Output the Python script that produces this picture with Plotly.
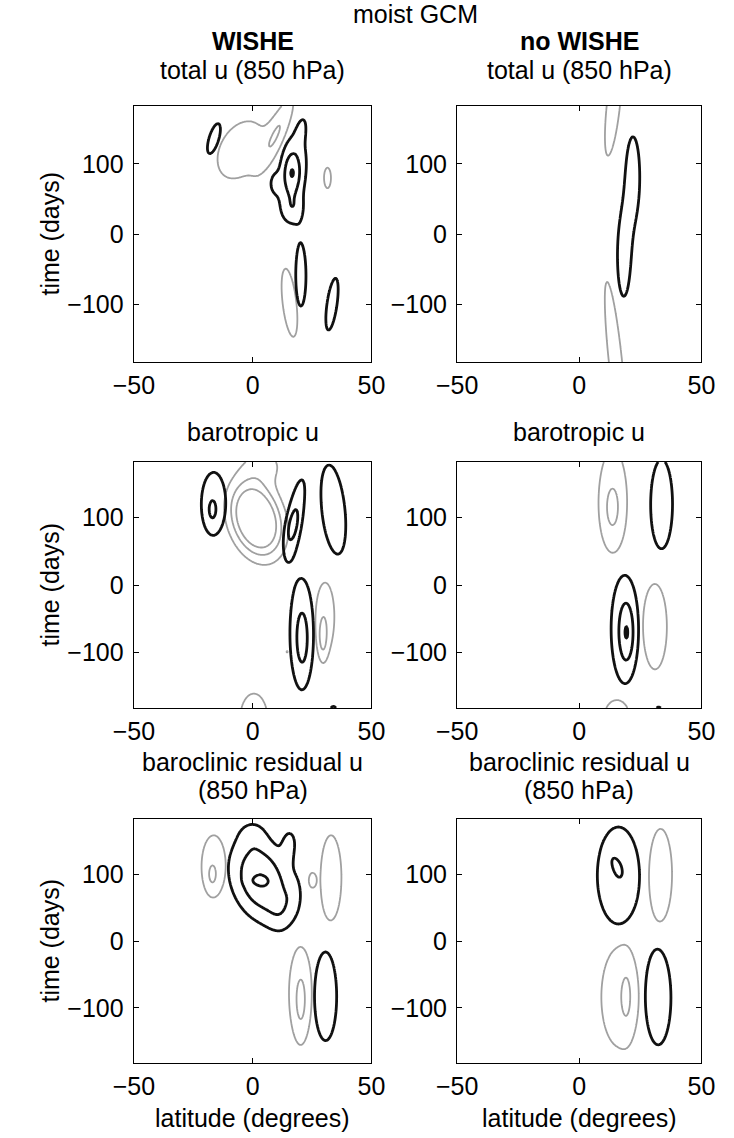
import numpy as np
import plotly.graph_objects as go

# ---------------------------------------------------------------------------
# Anomaly structures of zonal wind, latitude (deg) vs time lag (days).
# Each entry: (lat centre, time centre, lat spread, time spread, amplitude,
#              lat drift per day).  Positive amplitudes are westerly
#              (black contours), negative ones easterly (grey contours).
# ---------------------------------------------------------------------------
WISHE_TOTAL_U = [
    (-16.3, 136, 2.2, 22, 1.6, 0.08),
    (17.0, 88, 5.0, 50, 1.7, 0.03),
    (16.5, 87, 2.4, 20, 1.35, 0.0),
    (9.0, 72, 2.0, 13, 0.8, 0.0),
    (20.5, 148, 1.5, 15, 0.8, 0.05),
    (17.0, 35, 3.2, 15, 0.9, 0.0),
    (20.3, -60, 2.2, 44, 1.6, 0.0),
    (33.4, -100, 2.2, 38, 1.6, 0.04),
    (-5.0, 120, 9.5, 42, -1.6, 0.08),
    (11.0, 150, 3.0, 40, -1.6, 0.12),
    (31.5, 80, 1.5, 15, -1.6, 0.0),
    (15.5, -98, 3.0, 50, -1.6, -0.033),
]

NO_WISHE_TOTAL_U = [
    (22.0, 82, 2.8, 58, 1.6, 0.0),
    (18.2, -33, 2.6, 57, 1.6, 0.0),
    (14.0, 185, 2.8, 75, -1.6, 0.03),
    (14.75, -180, 2.8, 115, -1.6, -0.03),
]

WISHE_BAROTROPIC_U = [
    (-16.4, 122, 5.6, 50, 1.5, 0.0),
    (-17.0, 110, 1.8, 16, 0.8, 0.0),
    (17.6, 101, 2.8, 52, 1.6, 0.05),
    (16.7, 86, 2.0, 20, 0.8, 0.05),
    (34.0, 112, 5.0, 68, 1.6, -0.028),
    (20.5, -68, 4.6, 75, 1.6, 0.0),
    (21.0, -85, 2.4, 40, 0.9, 0.0),
    (34.0, -186, 1.3, 6, 1.6, 0.0),
    (1.5, 98, 6.9, 36, -6.0, -0.05),
    (5.0, 178, 7.0, 20, -1.2, 0.0),
    (30.5, -47, 4.0, 52, -1.6, 0.0),
    (29.5, -80, 1.4, 22, -1.3, 0.0),
    (14.5, -99, 0.5, 3, -1.1, 0.0),
    (0.5, -200, 6.0, 40, -1.6, 0.0),
]

NO_WISHE_BAROTROPIC_U = [
    (13.8, 128, 6.0, 80, -1.5, 0.0),
    (13.5, 112, 2.6, 30, -0.9, 0.0),
    (31.0, -62, 5.0, 65, -1.6, 0.0),
    (15.3, -200, 5.5, 30, -1.6, 0.0),
    (33.7, 120, 4.6, 68, 1.6, 0.0),
    (18.5, -65, 4.8, 69, 1.9, 0.0),
    (19.5, -72, 2.0, 30, 1.2, 0.0),
    (32.5, -187, 1.3, 6, 1.6, 0.0),
]

WISHE_BAROCLINIC_U = [
    (-16.4, 113, 5.6, 50, -1.5, 0.0),
    (-17.0, 98, 1.6, 14, -0.9, 0.0),
    (25.0, 91, 1.1, 8, -1.6, 0.0),
    (33.0, 95, 4.5, 65, -1.6, 0.0),
    (20.0, -77, 5.0, 70, -1.5, 0.0),
    (20.3, -93, 2.0, 36, -0.9, 0.0),
    (3.5, 92, 9.0, 45, 2.98, -0.05),
    (2.5, 90, 3.5, 5, 0.3, 0.0),
    (16.0, 150, 2.5, 18, 0.9, 0.0),
    (14.5, 128, 1.5, 15, 0.7, 0.0),
    (0.0, 160, 4.0, 15, 0.7, 0.0),
    (17.5, 70, 2.5, 22, 0.6, 0.0),
    (12.0, 40, 4.0, 22, 0.7, 0.0),
    (30.7, -83, 4.8, 68, 1.6, 0.0),
]

NO_WISHE_BAROCLINIC_U = [
    (16.0, 98, 7.6, 64, 1.9, 0.0),
    (14.8, 115, 1.6, 12, 0.4, -0.1),
    (33.3, 100, 4.4, 64, -1.75, 0.0),
    (16.5, -84, 7.7, 76, -1.6, 0.0),
    (19.5, -83, 2.0, 38, -0.8, 0.0),
    (32.3, -85, 4.6, 62, 1.9, 0.0),
]

LAT_TICKS = [-50, 0, 50]
TIME_TICKS = [-100, 0, 100]
POS_LEVELS = (1, 3, 1)     # start, end, step for westerly contours
NEG_LEVELS = (-3, -1, 1)   # easterly contours

PANELS = [
    WISHE_TOTAL_U, NO_WISHE_TOTAL_U,
    WISHE_BAROTROPIC_U, NO_WISHE_BAROTROPIC_U,
    WISHE_BAROCLINIC_U, NO_WISHE_BAROCLINIC_U,
]

# ---------------------------------------------------------------------------
lat = np.linspace(-50, 50, 301)
time = np.linspace(-182.5, 182.5, 293)
LAT, T = np.meshgrid(lat, time)


def build_field(blobs, sign):
    """Sum of the westerly (sign > 0) or easterly (sign < 0) structures."""
    f = np.zeros_like(LAT)
    for lat0, t0, slat, st, amp, drift in blobs:
        if amp * sign <= 0:
            continue
        xc = lat0 + drift * (T - t0)
        f += amp * np.exp(-0.5 * (((LAT - xc) / slat) ** 2 + ((T - t0) / st) ** 2))
    return f


def fmt(v):
    return ("\u2212" + str(-v)) if v < 0 else str(v)


W, H = 734, 1138
FONT = "Liberation Sans, Arial, Helvetica, sans-serif"
TICK_SIZE = 25
TITLE_SIZE = 25

col_px = [(118.5, 368.0), (458.0, 714.5)]
row_px = [(106.0, 362.0), (462.0, 708.0), (819.0, 1063.0)]


def px_x(x):
    return x / W


def px_y(y):
    return 1 - y / H


fig = go.Figure()
layout = {}

for i, blobs in enumerate(PANELS):
    r, c = divmod(i, 2)
    n = i + 1
    xa = "x" if n == 1 else f"x{n}"
    ya = "y" if n == 1 else f"y{n}"

    fig.add_trace(go.Contour(
        x=lat, y=time, z=build_field(blobs, -1), xaxis=xa, yaxis=ya,
        autocontour=False,
        contours=dict(start=NEG_LEVELS[0], end=NEG_LEVELS[1], size=NEG_LEVELS[2],
                      coloring="lines"),
        colorscale=[[0, "#a0a0a0"], [1, "#a0a0a0"]],
        line=dict(width=1.8, smoothing=1.0),
        showscale=False, hoverinfo="skip",
    ))
    fig.add_trace(go.Contour(
        x=lat, y=time, z=build_field(blobs, 1), xaxis=xa, yaxis=ya,
        autocontour=False,
        contours=dict(start=POS_LEVELS[0], end=POS_LEVELS[1], size=POS_LEVELS[2],
                      coloring="lines"),
        colorscale=[[0, "#111111"], [1, "#111111"]],
        line=dict(width=2.8, smoothing=1.0),
        showscale=False, hoverinfo="skip",
    ))

    x0, x1 = col_px[c]
    y0, y1 = row_px[r]
    axis_common = dict(
        showline=True, linecolor="black", linewidth=1.4, mirror="ticks",
        ticks="inside", ticklen=5, tickwidth=1.2, tickcolor="black",
        showgrid=False, zeroline=False,
        tickfont=dict(family=FONT, size=TICK_SIZE, color="black"),
    )
    layout["xaxis" if n == 1 else f"xaxis{n}"] = dict(
        axis_common,
        domain=[px_x(x0), px_x(x1)], anchor=ya, range=[-50, 50],
        tickvals=LAT_TICKS, ticktext=[fmt(v) for v in LAT_TICKS],
        ticklabelstandoff=1,
    )
    layout["yaxis" if n == 1 else f"yaxis{n}"] = dict(
        axis_common,
        domain=[px_y(y1), px_y(y0)], anchor=xa, range=[-182.5, 182.5],
        tickvals=TIME_TICKS, ticktext=[fmt(v) for v in TIME_TICKS],
        ticklabelstandoff=4,
    )

annotations = []


def label(text, x, y, size=TITLE_SIZE, angle=0):
    annotations.append(dict(
        text=text, x=px_x(x), y=px_y(y), xref="paper", yref="paper",
        xanchor="center", yanchor="middle", showarrow=False, textangle=angle,
        font=dict(family=FONT, size=size, color="black"),
    ))


cx = [(a + b) / 2 for a, b in col_px]
label("moist GCM", (cx[0] + cx[1]) / 2, 14)
label("<b>WISHE</b>", cx[0], 41)
label("<b>no WISHE</b>", cx[1], 41)
label("total u (850 hPa)", cx[0], 70)
label("total u (850 hPa)", cx[1], 70)
label("barotropic u", cx[0], 432)
label("barotropic u", cx[1], 432)
label("baroclinic residual u", cx[0], 762)
label("baroclinic residual u", cx[1], 762)
label("(850 hPa)", cx[0], 790)
label("(850 hPa)", cx[1], 790)
label("latitude (degrees)", cx[0], 1118)
label("latitude (degrees)", cx[1], 1118)
for (a, b) in row_px:
    label("time (days)", 30, (a + b) / 2, angle=-90)

fig.update_layout(
    width=W, height=H,
    margin=dict(l=0, r=0, t=0, b=0),
    paper_bgcolor="white", plot_bgcolor="white",
    showlegend=False, annotations=annotations,
    **layout,
)

fig.write_html("out.html")
